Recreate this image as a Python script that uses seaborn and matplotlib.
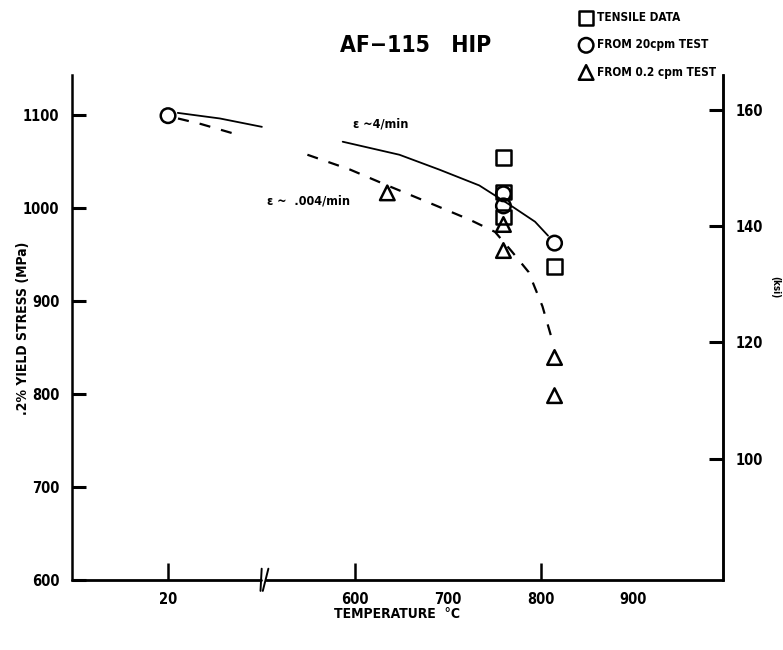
import numpy as np
import matplotlib
matplotlib.use('Agg')
import matplotlib.pyplot as plt
import seaborn as sns

# 데이터
tensile_T = [760, 760, 760, 815]
tensile_mpa = [1054, 1017, 990, 937]
fast_T = [20, 760, 760, 815]
fast_mpa = [1099, 1015, 1002, 962]
slow_T = [635, 760, 760, 815, 815]
slow_mpa = [1016, 982, 954, 839, 798]

# 곡선 (손으로 그린 추세선)
solid_a_T = [70, 285, 500]
solid_a_mpa = [1102, 1096, 1087]
solid_b_T = [587, 648, 691, 734, 767, 794, 808]
solid_b_mpa = [1071, 1057, 1041, 1024, 1003, 985, 970]
dashed_a_T = [71, 189, 352]
dashed_a_mpa = [1096, 1090, 1080]
dashed_b_T = [549, 595, 635, 681, 724, 751, 769, 787, 802, 813]
dashed_b_mpa = [1057, 1041, 1024, 1005, 987, 974, 953, 931, 894, 856]

major_ticks = [20, 600, 800]
minor_ticks = [700, 900]
mpa_ticks = [600, 700, 800, 900, 1000, 1100]
ksi_ticks = [100, 120, 140, 160]

sns.set_style('ticks')
plt.rcParams['font.family'] = ['Liberation Sans Narrow', 'DejaVu Sans']
plt.rcParams['font.stretch'] = 'condensed'
plt.rcParams['font.weight'] = 'bold'
for k in ['text.color', 'axes.labelcolor', 'xtick.color', 'ytick.color', 'axes.edgecolor']:
    plt.rcParams[k] = 'black'

# 축 끊김 (20 ~ 500 구간 압축)
BRK = 500
C = 101 / 480


def fwd(t):
    t = np.asarray(t, dtype=float)
    return np.where(t >= BRK, t, BRK - (BRK - t) * C)


def inv(p):
    p = np.asarray(p, dtype=float)
    return np.where(p >= BRK, p, BRK - (BRK - p) / C)


fig = plt.figure(figsize=(7.83, 6.5), dpi=100)
ax = fig.add_axes([0.092, 0.108, 0.831, 0.777])
ax.set_xscale('function', functions=(fwd, inv))

line_kw = dict(color='black', estimator=None, sort=False, legend=False, ax=ax)
sns.lineplot(x=solid_a_T, y=solid_a_mpa, linewidth=1.3, **line_kw)
sns.lineplot(x=solid_b_T, y=solid_b_mpa, linewidth=1.3, **line_kw)
for xs, ys in [(dashed_a_T, dashed_a_mpa), (dashed_b_T, dashed_b_mpa)]:
    sns.lineplot(x=xs, y=ys, linewidth=1.6, linestyle=(0, (5, 5)), **line_kw)

pt_kw = dict(facecolor='none', edgecolor='black', linewidth=1.8, s=110, ax=ax, zorder=5)
sns.scatterplot(x=tensile_T, y=tensile_mpa, marker='s', label='TENSILE DATA', **pt_kw)
sns.scatterplot(x=fast_T, y=fast_mpa, marker='o', label='FROM 20cpm TEST', **pt_kw)
sns.scatterplot(x=slow_T, y=slow_mpa, marker='^', label='FROM 0.2 cpm TEST', **pt_kw)

ax.set_xlim(-471, 996)
ax.set_ylim(600, 1143)
ax.set_yticks(mpa_ticks)
ax.set_xticks(major_ticks)
ax.set_xticks(minor_ticks, minor=True)
ax.set_xticklabels([str(t) for t in major_ticks])
ax.set_xticklabels([str(t) for t in minor_ticks], minor=True)
ax.tick_params(axis='x', which='major', direction='in', length=12, width=1.8, pad=9, labelsize=10.5)
ax.tick_params(axis='x', which='minor', direction='in', length=0, pad=9, labelsize=10.5)
ax.tick_params(axis='y', direction='in', length=10, width=2.2, pad=9, labelsize=10.5)

for side in ['left', 'right']:
    ax.spines[side].set_linewidth(1.8)
ax.spines['top'].set_visible(False)
ax.spines['bottom'].set_visible(False)

# 아래 축선과 끊김 표시
bx = float(fwd(BRK))
xt = ax.get_xaxis_transform()
ax.plot([-471, bx - 4], [0, 0], color='black', lw=2, transform=xt, clip_on=False)
ax.plot([bx + 4, 996], [0, 0], color='black', lw=2, transform=xt, clip_on=False)
for dx in (-4, 4):
    ax.plot([bx + dx - 3, bx + dx + 3], [-0.022, 0.022], color='black', lw=1.4,
            transform=xt, clip_on=False)

ax.set_xlabel('TEMPERATURE  °C', fontsize=10, fontweight='bold', labelpad=0)
ax.set_ylabel('.2% YIELD STRESS (MPa)', fontsize=10, fontweight='bold', va='center')
ax.yaxis.set_label_coords(-0.076, 0.497)

ax2 = ax.twinx()
ax2.set_ylim(79.2, 166)
ax2.set_yticks(ksi_ticks)
ax2.tick_params(axis='y', direction='in', length=10, width=2.2, pad=9, labelsize=10.5)
for side in ['top', 'bottom', 'left']:
    ax2.spines[side].set_visible(False)
ax2.spines['right'].set_linewidth(1.8)
ax2.set_ylabel('(ksi)', fontsize=7, fontweight='bold', rotation=270, va='center')
ax2.yaxis.set_label_coords(1.08, 0.58)

ax.text(598, 1086, 'ε ~4/min', fontsize=9, fontweight='bold')
ax.text(505, 1003, 'ε ~  .004/min', fontsize=9, fontweight='bold')

fig.text(0.531, 0.92, 'AF\u2212115   HIP', fontsize=16.5, fontweight='bold', ha='center')

handles, labels = ax.get_legend_handles_labels()
ax.get_legend().remove()
fig.legend(handles, labels, loc='upper left', bbox_to_anchor=(0.735, 0.99),
           frameon=False, fontsize=8.5, handletextpad=0.4, labelspacing=1.2,
           borderaxespad=0, handlelength=1.0, markerscale=1.0)

fig.savefig('out.png', dpi=100)
